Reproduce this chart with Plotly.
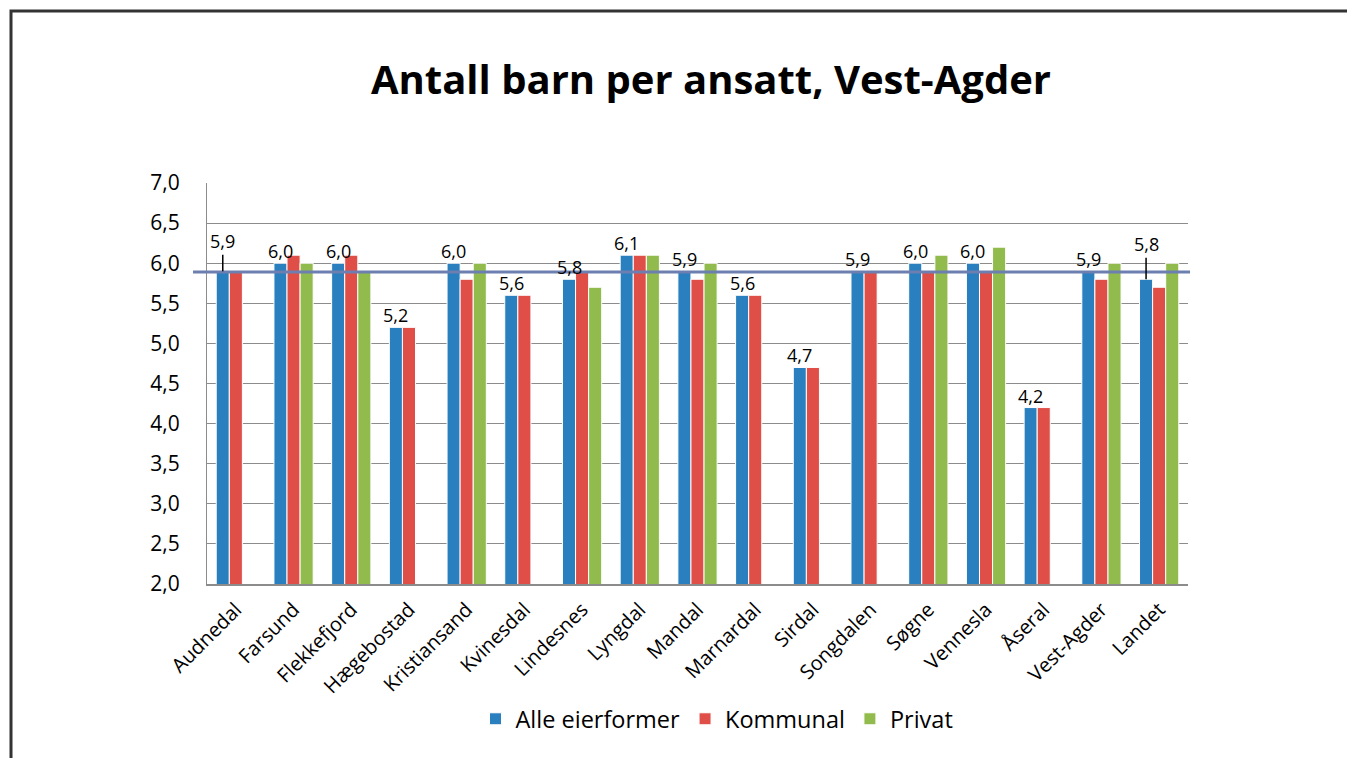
import plotly.graph_objects as go

categories = ["Audnedal", "Farsund", "Flekkefjord", "Hægebostad", "Kristiansand", "Kvinesdal",
              "Lindesnes", "Lyngdal", "Mandal", "Marnardal", "Sirdal", "Songdalen", "Søgne",
              "Vennesla", "Åseral", "Vest-Agder", "Landet"]
alle = [5.9, 6.0, 6.0, 5.2, 6.0, 5.6, 5.8, 6.1, 5.9, 5.6, 4.7, 5.9, 6.0, 6.0, 4.2, 5.9, 5.8]
kommunal = [5.9, 6.1, 6.1, 5.2, 5.8, 5.6, 5.9, 6.1, 5.8, 5.6, 4.7, 5.9, 5.9, 5.9, 4.2, 5.8, 5.7]
privat = [None, 6.0, 5.9, None, 6.0, None, 5.7, 6.1, 6.0, None, None, None, 6.1, 6.2, None, 6.0, 6.0]
reference_value = 5.89
y_ticks = [2.0, 2.5, 3.0, 3.5, 4.0, 4.5, 5.0, 5.5, 6.0, 6.5, 7.0]

OFF = 8  # page body margin
W, H = 1355 - OFF, 758 - OFF
L, R, T, B = 207 - OFF, 1188 - OFF, 183 - OFF, 584 - OFF
FONT = "Open Sans"


def px_x(p):
    return (p - OFF - L) / (R - L)


def px_y(p):
    return (B - (p - OFF)) / (B - T)


fig = go.Figure()
series = [("Alle eierformer", alle, "#2a7fbf"),
          ("Kommunal", kommunal, "#e04e48"),
          ("Privat", privat, "#91bb4c")]
for name, vals, col in series:
    fig.add_trace(go.Bar(x=categories, y=vals, name=name,
                         marker=dict(color=col, line=dict(color="white", width=1))))

# reference line (average)
fig.add_shape(type="line", xref="paper", yref="y",
              x0=px_x(193), x1=px_x(1190),
              y0=reference_value, y1=reference_value,
              line=dict(color="#6d7fb0", width=3), layer="above")

# data labels for "Alle eierformer"
leader = {"Audnedal": -30, "Landet": -35}
cat_w = (R - L) / len(categories)
bargap = 0.32
slot = cat_w * (1 - bargap) / 3
for c, v in zip(categories, alle):
    txt = f"{v:.1f}".replace(".", ",")
    if c in leader:
        fig.add_annotation(x=c, y=v, xref="x", yref="y", text=txt, showarrow=True,
                           arrowhead=0, arrowwidth=1.5, arrowcolor="black",
                           ax=0, ay=leader[c], xshift=-slot, standoff=0,
                           font=dict(family=FONT, size=18, color="black"))
    else:
        fig.add_annotation(x=c, y=v, xref="x", yref="y", text=txt, showarrow=False,
                           yanchor="bottom", xshift=-slot, yshift=-2,
                           font=dict(family=FONT, size=18, color="black"))

# outer frame
fig.add_shape(type="rect", xref="paper", yref="paper",
              x0=px_x(11), x1=px_x(1420),
              y0=px_y(820), y1=px_y(11),
              line=dict(color="#333333", width=3), layer="above")

fig.update_layout(
    width=W, height=H,
    margin=dict(l=L, r=W - R, t=T, b=H - B, pad=0),
    paper_bgcolor="white", plot_bgcolor="white",
    barmode="group", bargap=bargap, bargroupgap=0,
    title=dict(text="<b>Antall barn per ansatt, Vest-Agder</b>",
               x=(711 - OFF) / W, xanchor="center", y=1 - (80 - OFF) / H, yanchor="middle",
               font=dict(family=FONT, size=40, color="black")),
    font=dict(family=FONT, color="black"),
    showlegend=True,
    legend=dict(orientation="h", x=px_x(717), xanchor="center",
                y=px_y(719), yanchor="middle",
                font=dict(family=FONT, size=23.5, color="black"),
                itemwidth=30, traceorder="normal"),
    yaxis=dict(range=[2.0, 7.0], tickvals=y_ticks,
               ticktext=[f"{t:.1f}".replace(".", ",") for t in y_ticks],
               tickfont=dict(family=FONT, size=21, color="black"),
               showgrid=True, gridcolor="#8c8c8c", gridwidth=1,
               showline=True, linecolor="#8c8c8c", linewidth=1,
               ticks="", ticklabelstandoff=22, zeroline=False, fixedrange=True),
    xaxis=dict(tickangle=-45, tickfont=dict(family=FONT, size=20, color="black"),
               showline=True, linecolor="#8c8c8c", linewidth=2, mirror=False,
               ticks="", showgrid=False, fixedrange=True, ticklabelstandoff=4),
)

fig.write_html("out.html")
